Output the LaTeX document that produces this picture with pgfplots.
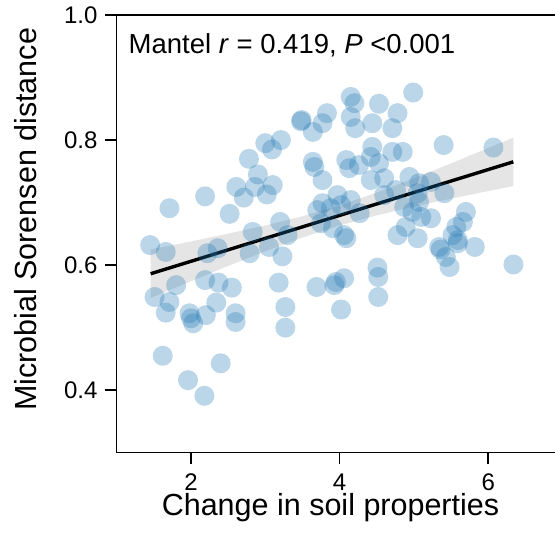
\documentclass[border=0pt]{standalone}
\usepackage{pgfplots}
\pgfplotsset{compat=1.18}
\usepackage{fontspec}
\setmainfont{Liberation Sans}
\definecolor{tabblue}{RGB}{31,119,180}
\begin{document}
\begin{tikzpicture}
\useasboundingbox (0,0) rectangle (555pt,540pt);
\begin{axis}[
 at={(116.7pt,87.3pt)}, anchor=south west,
 scale only axis, width=445.8pt, height=437.7pt,
 xmin=1, xmax=7, ymin=0.3, ymax=1.0,
 xtick={2,4,6}, ytick={0.4,0.6,0.8,1.0},
 yticklabel style={xshift=-4pt, /pgf/number format/fixed, /pgf/number format/fixed zerofill, /pgf/number format/precision=1},
 /pgf/number format/assume math mode=true,
 tick pos=left, tick align=outside, major tick length=11.7pt,
 axis line style={line width=1.6pt},
 major tick style={black, line width=1.6pt},
 ticklabel style={font=\fontsize{24}{28}\selectfont},
 xticklabel style={yshift=-6pt},
 xlabel={Change in soil properties},
 ylabel={Microbial Sorensen distance},
 label style={font=\fontsize{30.5}{36}\selectfont},
 x label style={at={(axis description cs:0.4796,-0.1440)}, anchor=base},
 y label style={at={(axis description cs:-0.181,0.533)}, anchor=base},
 clip=false,
]
\addplot[only marks, color=tabblue, mark=*, mark size=10pt, mark options={solid, fill=tabblue, fill opacity=0.3, draw opacity=0, line width=0pt}] coordinates {
(1.45,0.632) (1.66,0.621) (1.71,0.691) (1.51,0.549) (1.71,0.541) (1.66,0.524)
(1.80,0.568) (1.62,0.455) (1.96,0.416) (2.18,0.391) (2.40,0.443) (1.98,0.523)
(2.00,0.515) (2.03,0.507) (2.20,0.520) (2.19,0.576) (2.37,0.572) (2.55,0.564)
(2.34,0.540) (2.60,0.523) (2.60,0.509) (2.19,0.710) (2.52,0.682) (2.22,0.619)
(2.36,0.627) (2.79,0.619) (2.83,0.653) (2.61,0.725) (2.71,0.708) (2.78,0.770)
(2.90,0.745) (2.86,0.725) (3.02,0.713) (3.10,0.728) (3.00,0.795) (3.09,0.785)
(3.21,0.800) (3.05,0.629) (3.23,0.614) (3.20,0.669) (3.30,0.648) (3.18,0.572)
(3.27,0.533) (3.27,0.500)
(3.48,0.830) (3.49,0.832) (3.64,0.813) (3.83,0.843) (3.77,0.827) (3.64,0.765)
(3.66,0.757) (3.77,0.736) (3.70,0.688) (3.77,0.699) (3.88,0.691) (4.02,0.696)
(3.97,0.712) (3.75,0.667) (3.91,0.659) (4.06,0.648) (4.09,0.643) (3.69,0.565)
(3.93,0.568) (3.95,0.573) (4.06,0.579) (4.02,0.529) (4.15,0.869) (4.20,0.859)
(4.15,0.837) (4.21,0.819) (4.44,0.827) (4.53,0.858) (4.78,0.843) (4.71,0.819)
(4.99,0.876) (4.09,0.768) (4.13,0.755) (4.26,0.760) (4.44,0.789) (4.42,0.773)
(4.53,0.763) (4.60,0.739) (4.42,0.736) (4.71,0.781) (4.85,0.781) (4.15,0.704)
(4.27,0.683) (4.60,0.712) (4.76,0.720) (4.87,0.693) (4.78,0.648) (4.89,0.661)
(4.51,0.596) (4.52,0.581) (4.52,0.549)
(5.40,0.792) (6.07,0.788) (4.94,0.741) (5.07,0.731) (5.23,0.733) (5.41,0.715)
(5.05,0.715) (5.07,0.701) (4.98,0.685) (5.10,0.677) (5.23,0.675) (5.05,0.643)
(5.70,0.685) (5.66,0.669) (5.57,0.661) (5.52,0.648) (5.59,0.640) (5.59,0.635)
(5.34,0.629) (5.36,0.625) (5.82,0.629) (5.43,0.613) (5.48,0.597) (6.34,0.601)
};
\addplot[draw=none, fill=black, fill opacity=0.1] coordinates {
(1.457,0.5474) (2.0,0.5743) (2.5,0.5987) (3.0,0.6222) (3.5,0.6441) (4.0,0.6634)
(4.5,0.6796) (5.0,0.6936) (5.5,0.7063) (6.0,0.7184) (6.338,0.7264)
(6.338,0.8040) (6.0,0.7872) (5.5,0.7627) (5.0,0.7388) (4.5,0.7160) (4.0,0.6956)
(3.5,0.6781) (3.0,0.6634) (2.5,0.6503) (2.0,0.6379) (1.457,0.6250)
} -- cycle;
\addplot[black, line width=3.4pt] coordinates {(1.457,0.5862) (6.338,0.7652)};
\node[anchor=base west, font=\fontsize{27.5}{31}\selectfont, inner sep=0pt] at (rel axis cs:0.0265,0.913) {Mantel \textit{r} = 0.419, \textit{P} <0.001};
\end{axis}
\end{tikzpicture}
\end{document}
